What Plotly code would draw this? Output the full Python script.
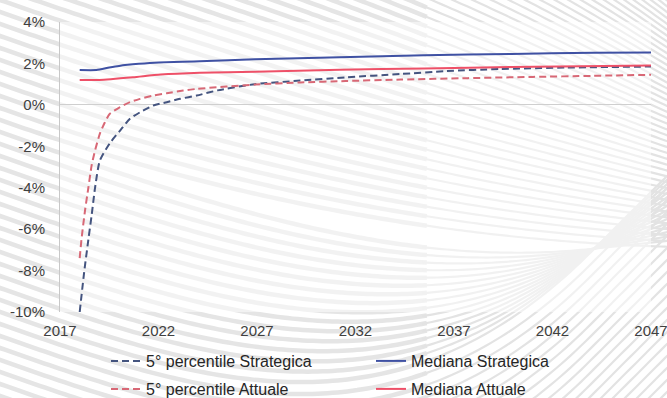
import numpy as np
import plotly.graph_objects as go

# ---------------- data ----------------
p5_strat_x = [2018.00, 2018.23, 2018.44, 2018.61, 2018.78, 2019.02, 2019.53, 2020.05, 2020.55,
              2021.06, 2021.74, 2022.42, 2023.09, 2023.94, 2025.0, 2026.9, 2029.2, 2031.5,
              2034.3, 2036.6, 2039.3, 2042.7, 2047.0]
p5_strat_y = [-10.0, -8.05, -6.5, -5.3, -4.0, -2.7, -1.85, -1.24, -0.67,
              -0.36, -0.03, 0.13, 0.29, 0.45, 0.7, 1.0, 1.17, 1.33,
              1.49, 1.63, 1.73, 1.80, 1.85]

p5_att_x = [2018.00, 2018.09, 2018.27, 2018.44, 2018.61, 2018.78, 2019.02, 2019.28, 2019.53,
            2020.05, 2020.55, 2021.06, 2021.72, 2022.42, 2023.26, 2023.94, 2026.9, 2029.2,
            2031.5, 2034.3, 2037.7, 2041.0, 2044.0, 2047.0]
p5_att_y = [-7.4, -6.5, -5.1, -4.0, -2.9, -2.2, -1.4, -0.84, -0.43,
            -0.11, 0.13, 0.29, 0.45, 0.56, 0.69, 0.77, 0.98, 1.08,
            1.15, 1.22, 1.29, 1.35, 1.40, 1.45]

med_strat_x = [2018.0, 2018.85, 2019.5, 2020.0, 2021.0, 2022.0, 2024.1, 2026.9, 2031.2,
               2035.5, 2039.9, 2044.1, 2047.0]
med_strat_y = [1.68, 1.68, 1.80, 1.88, 1.98, 2.05, 2.10, 2.20, 2.30,
               2.39, 2.46, 2.51, 2.53]

med_att_x = [2018.0, 2019.0, 2020.7, 2022.1, 2024.1, 2026.9, 2031.2, 2035.5, 2039.9, 2047.0]
med_att_y = [1.20, 1.20, 1.33, 1.46, 1.55, 1.60, 1.70, 1.76, 1.83, 1.90]

series_names = ["5° percentile Strategica", "Mediana Strategica",
                "5° percentile Attuale", "Mediana Attuale"]

x_tick_vals = [2017, 2022, 2027, 2032, 2037, 2042, 2047]
x_tick_text = ["2017", "2022", "2027", "2032", "2037", "2042", "2047"]
y_tick_vals = [-10, -8, -6, -4, -2, 0, 2, 4]
y_tick_text = ["-10%", "-8%", "-6%", "-4%", "-2%", "0%", "2%", "4%"]

# ---------------- layout geometry ----------------
W, H = 667, 398
ML, MR, MT, MB = 60, 16, 22, 86
PW, PH = W - ML - MR, H - MT - MB

FONT = "Liberation Sans, Arial, sans-serif"


def to_paper(px, py):
    return (px - ML) / PW, 1 - (py - MT) / PH


def path_from(xs, ys):
    pts = [to_paper(x, y) for x, y in zip(xs, ys)]
    return "M" + " L".join(f"{px:.4f},{py:.4f}" for px, py in pts)


# decorative background: family of light grey sweeping curves (pure decoration)
def background_shapes():
    shapes = []
    xc = 590.0
    xs = np.linspace(-10, 680, 140)
    for a in np.arange(-600, 760, 12):
        if a <= 130:
            yf = 249 + 0.6 * (a - 130)
            base = a + 0.35 * xs - 0.35 * xs ** 2 / 1400
            base_c = a + 0.35 * xc - 0.35 * xc ** 2 / 1400
            ys = base + (yf - base_c) * (xs / xc) ** 2
        else:
            yf = 249 + 0.02 * (a - 130) if a <= 310 else a - 59
            coeff = yf - a - 0.35 * xc
            slope_c = 0.35 + 3 * coeff / xc
            ys = np.where(xs <= xc,
                          a + 0.35 * xs + coeff * (np.clip(xs, 0, None) / xc) ** 3,
                          yf + slope_c * (xs - xc))
        ys = np.clip(ys, -200, 700)
        left = xs <= 430
        right = xs >= 420
        shapes.append(dict(type="path", path=path_from(xs[left], ys[left]),
                           xref="paper", yref="paper",
                           line=dict(color="#e5e5e5", width=4.5), layer="below"))
        shapes.append(dict(type="path", path=path_from(xs[right], ys[right]),
                           xref="paper", yref="paper",
                           line=dict(color="#e3e3e3", width=2.2), layer="below"))
    # soften lines inside plot area
    shapes.append(dict(type="rect", xref="paper", yref="paper", x0=0, x1=1, y0=0, y1=1,
                       fillcolor="rgba(255,255,255,0.5)", line=dict(width=0), layer="below"))
    return shapes


fig = go.Figure()

fig.add_trace(go.Scatter(x=p5_strat_x, y=p5_strat_y, mode="lines", name=series_names[0],
                         line=dict(color="#44547F", width=2, dash="7px,4px", shape="spline", smoothing=0.6),
                         legend="legend"))
fig.add_trace(go.Scatter(x=med_strat_x, y=med_strat_y, mode="lines", name=series_names[1],
                         line=dict(color="#3F51A3", width=2, shape="spline", smoothing=0.6),
                         legend="legend"))
fig.add_trace(go.Scatter(x=p5_att_x, y=p5_att_y, mode="lines", name=series_names[2],
                         line=dict(color="#D86876", width=2, dash="7px,4px", shape="spline", smoothing=0.6),
                         legend="legend2"))
fig.add_trace(go.Scatter(x=med_att_x, y=med_att_y, mode="lines", name=series_names[3],
                         line=dict(color="#EE5068", width=2, shape="spline", smoothing=0.6),
                         legend="legend2"))

leg_x = (106 - ML) / PW
common_leg = dict(orientation="h", xanchor="left", yanchor="middle", x=leg_x,
                  entrywidth=220, entrywidthmode="pixels", bgcolor="rgba(0,0,0,0)",
                  font=dict(family=FONT, size=16, color="#262626"), itemclick=False)

fig.update_layout(
    width=W, height=H,
    margin=dict(l=ML, r=MR, t=MT, b=MB, pad=0, autoexpand=False),
    paper_bgcolor="white", plot_bgcolor="rgba(0,0,0,0)",
    showlegend=True,
    legend=dict(common_leg, y=to_paper(0, 361)[1]),
    legend2=dict(common_leg, y=to_paper(0, 389)[1]),
    shapes=background_shapes(),
    xaxis=dict(range=[2017, 2047], tickvals=x_tick_vals, ticktext=x_tick_text,
               showgrid=False, zeroline=False, showline=False,
               ticks="outside", ticklen=5, tickcolor="rgba(0,0,0,0)",
               ticklabeloverflow="allow",
               tickfont=dict(family=FONT, size=15, color="#404040")),
    yaxis=dict(range=[-10, 4], tickvals=y_tick_vals, ticktext=y_tick_text,
               showgrid=False, zeroline=True, zerolinecolor="#cfcfcf", zerolinewidth=1,
               showline=True, linecolor="#c8c8c8", linewidth=1,
               ticks="outside", ticklen=11, tickcolor="rgba(0,0,0,0)",
               tickfont=dict(family=FONT, size=15, color="#404040")),
)

fig.write_html("out.html")
